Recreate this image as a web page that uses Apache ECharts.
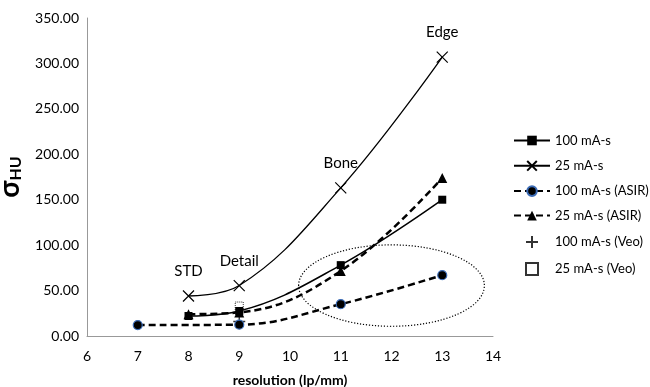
<!DOCTYPE html>
<html>
<head>
<meta charset="utf-8">
<script src="https://cdn.jsdelivr.net/npm/echarts@6/dist/echarts.min.js"></script>
<style>
html, body { margin: 0; padding: 0; background: #fff; }
#box { width: 650px; height: 387px; }
</style>
</head>
<body>
<div id="box"></div>
<script>
// resolution (lp/mm) per series
var xMain = [8, 9, 11, 13];
var xAsir100 = [7, 9, 11, 13];
var xVeo = [9];

// sigma HU values
var s100 = [22, 27.5, 78, 150];
var s25 = [44, 55.5, 163, 307];
var s100Asir = [12, 12.5, 35, 67];
var s25Asir = [24, 26, 71.5, 174];
var s100Veo = [16];
var s25Veo = [33];

// kernel names shown above the 25 mA-s points
var kernels = ['STD', 'Detail', 'Bone', 'Edge'];

// dotted ellipse: centre and radii in data units
var ellCenter = [12, 55.5];
var ellRadius = [1.83, 44.8];

function pairs(xs, ys) {
	return xs.map(function(x, i) { return [x, ys[i]]; });
}

var chartDom = document.getElementById('box');
var myChart = echarts.init(chartDom);

var fontFam = 'Lato, "Open Sans", sans-serif';
var crossPath = 'path://M0,0L10,10M10,0L0,10';
var plusPath = 'path://M5,0L5,10M0,5L10,5';
var squarePath = 'path://M0,0L10,0L10,10L0,10Z';

var option = {
	animation: false,
	textStyle: { fontFamily: fontFam, color: '#000' },
	grid: { left: 87, right: 157, top: 18, bottom: 51, outerBoundsMode: 'none', containLabel: false },
	legend: {
		orient: 'vertical',
		left: 508,
		top: 129,
		itemWidth: 36,
		itemHeight: 12,
		itemGap: 11.5,
		textStyle: { fontSize: 13, color: '#000', fontFamily: fontFam },
		data: ['100 mA-s', '25 mA-s', '100 mA-s (ASIR)', '25 mA-s (ASIR)', '100 mA-s (Veo)', '25 mA-s (Veo)']
	},
	xAxis: {
		type: 'value',
		min: 6,
		max: 14,
		interval: 1,
		name: 'resolution (lp/mm)',
		nameLocation: 'middle',
		nameGap: 37,
		nameTextStyle: { fontWeight: 'bold', fontSize: 14 },
		axisLine: { lineStyle: { color: '#999' } },
		axisTick: { show: false },
		axisLabel: { color: '#000', fontSize: 14, margin: 13 },
		splitLine: { show: false }
	},
	yAxis: {
		type: 'value',
		min: 0,
		max: 350,
		interval: 50,
		name: '{s|σ}{sub|HU}',
		nameLocation: 'middle',
		nameGap: 56,
		nameTextStyle: {
			lineHeight: 30,
			rich: {
				s: { fontSize: 28, fontWeight: 'bold', fontFamily: fontFam, color: '#000', lineHeight: 30, verticalAlign: 'bottom' },
				sub: { fontSize: 16, fontWeight: 'bold', fontFamily: fontFam, color: '#000', lineHeight: 30, verticalAlign: 'bottom' }
			}
		},
		axisLine: { show: true, lineStyle: { color: '#999' } },
		axisTick: { show: false },
		axisLabel: {
			color: '#000',
			fontSize: 14,
			margin: 8,
			formatter: function(v) { return v.toFixed(2); }
		},
		splitLine: { show: false }
	},
	series: [{
			name: '100 mA-s',
			type: 'line',
			smooth: 0.4,
			data: pairs(xMain, s100),
			symbol: 'rect',
			symbolSize: 8,
			lineStyle: { color: '#000', width: 1.5 },
			itemStyle: { color: '#000' }
		},
		{
			name: '25 mA-s',
			type: 'line',
			smooth: 0.4,
			data: pairs(xMain, s25),
			symbol: crossPath,
			symbolSize: 11,
			lineStyle: { color: '#000', width: 1.3 },
			itemStyle: { color: 'none', borderColor: '#000', borderWidth: 1.2 },
			label: {
				show: true,
				position: 'top',
				distance: 9,
				fontSize: 15,
				color: '#000',
				formatter: function(p) { return kernels[p.dataIndex]; }
			}
		},
		{
			name: '100 mA-s (ASIR)',
			type: 'line',
			smooth: 0.4,
			data: pairs(xAsir100, s100Asir),
			symbol: 'circle',
			symbolSize: 9,
			lineStyle: { color: '#000', width: 2.5, type: [7, 4] },
			itemStyle: { color: '#000', borderColor: '#3a6ab5', borderWidth: 1.2 }
		},
		{
			name: '25 mA-s (ASIR)',
			type: 'line',
			smooth: 0.4,
			data: pairs(xMain, s25Asir),
			symbol: 'triangle',
			symbolSize: 10,
			lineStyle: { color: '#000', width: 2.5, type: [7, 4] },
			itemStyle: { color: '#000' }
		},
		{
			name: '100 mA-s (Veo)',
			type: 'scatter',
			data: pairs(xVeo, s100Veo),
			symbol: plusPath,
			symbolSize: 12,
			itemStyle: { color: 'none', borderColor: '#000', borderWidth: 1.4 }
		},
		{
			name: '25 mA-s (Veo)',
			type: 'scatter',
			data: pairs(xVeo, s25Veo),
			symbol: squarePath,
			symbolSize: 8,
			symbolKeepAspect: true,
			itemStyle: { color: '#fff', borderColor: '#000', borderWidth: 1, borderType: 'dotted' }
		}
	]
};

myChart.setOption(option);

// dotted ellipse placed through the axes
var c = myChart.convertToPixel({ gridIndex: 0 }, ellCenter);
var e = myChart.convertToPixel({ gridIndex: 0 }, [ellCenter[0] + ellRadius[0], ellCenter[1] + ellRadius[1]]);
myChart.setOption({
	graphic: [{
		type: 'ellipse',
		silent: true,
		z: 1,
		shape: { cx: c[0], cy: c[1], rx: Math.abs(e[0] - c[0]), ry: Math.abs(c[1] - e[1]) },
		style: { fill: 'none', stroke: '#000', lineWidth: 1.2, lineDash: [1.2, 1.8] }
	}]
});
</script>
</body>
</html>
